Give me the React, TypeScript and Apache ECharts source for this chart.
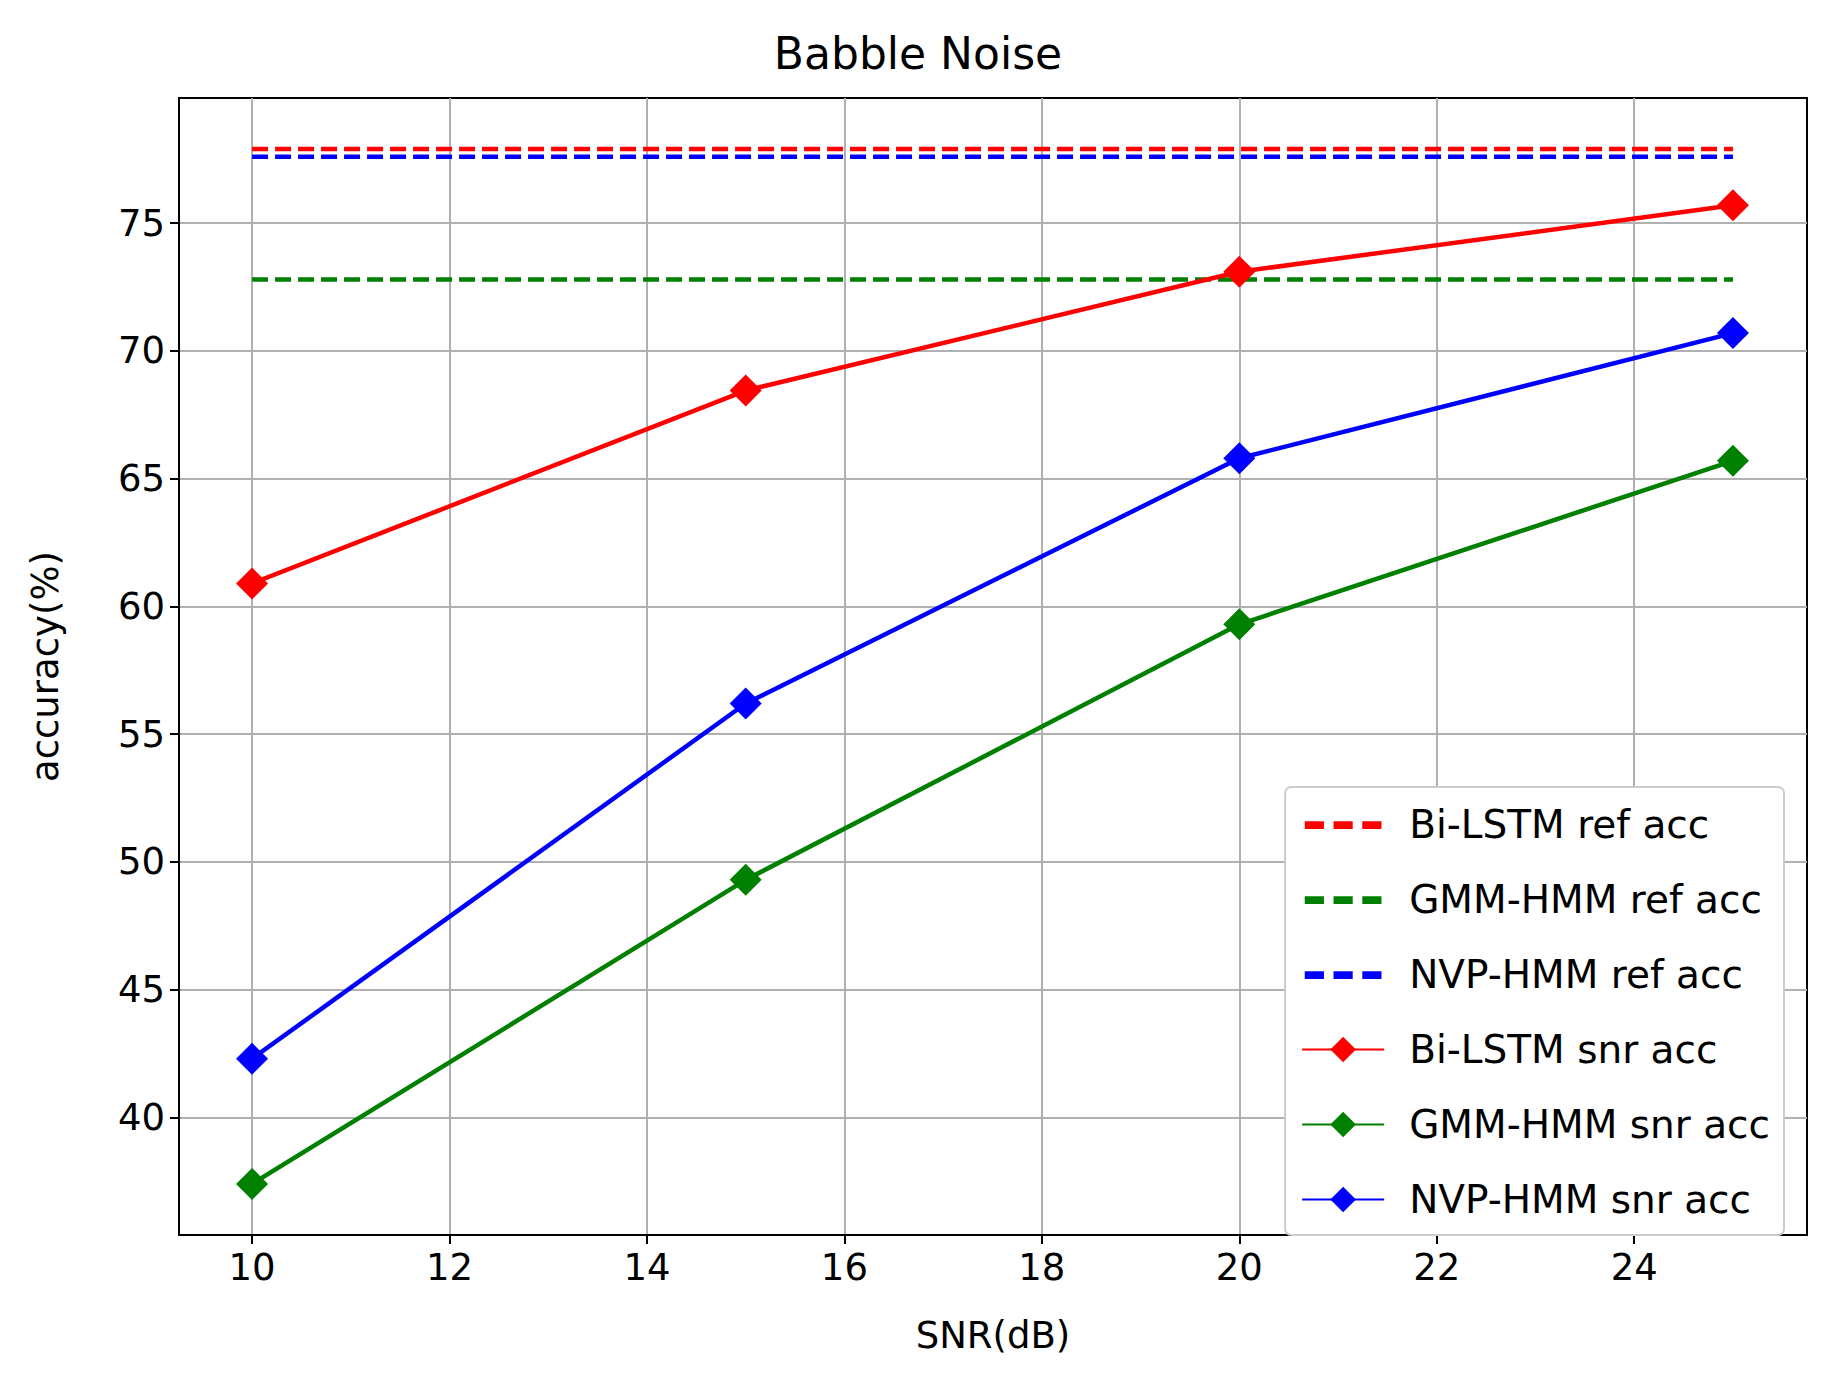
import * as echarts from 'echarts';
import { useEffect, useRef } from 'react';

const snr = [10, 15, 20, 25];
const biLstmRef = 77.9;
const gmmRef = 72.8;
const nvpRef = 77.6;
const biLstmSnr = [60.9, 68.45, 73.1, 75.7];
const gmmSnr = [37.4, 49.3, 59.3, 65.7];
const nvpSnr = [42.3, 56.2, 65.8, 70.7];
const xTicks = [10, 12, 14, 16, 18, 20, 22, 24];
const yTicks = [40, 45, 50, 55, 60, 65, 70, 75];

const font = 'DejaVu Sans';
// dashed legend icon; corner specks keep the bounding box so the dashes stay thin
const dashIcon =
  'path://M0,0h0.01v0.01h-0.01zM24,10h0.01v0.01h-0.01zM0,4h6v2.4h-6zM9,4h6v2.4h-6zM18,4h6v2.4h-6z';

function refSeries(name: string, v: number, color: string) {
  return {
    name,
    type: 'line',
    data: [[snr[0], v], [snr[snr.length - 1], v]],
    symbol: 'none',
    lineStyle: { color, width: 4.5, type: [16, 7] },
    itemStyle: { color },
  };
}

function snrSeries(name: string, vals: number[], color: string) {
  return {
    name,
    type: 'line',
    data: snr.map((x, i) => [x, vals[i]]),
    symbol: 'diamond',
    symbolSize: 32,
    lineStyle: { color, width: 4.5 },
    itemStyle: { color },
  };
}

export default function App() {
  const ref = useRef<HTMLDivElement>(null);

  useEffect(() => {
    if (!ref.current) return;
    const chart = echarts.init(ref.current, null, { renderer: 'svg' });
    const axisCommon = {
      type: 'value',
      axisLine: { show: true, onZero: false, lineStyle: { color: '#000', width: 2 } },
      axisTick: { show: true, length: 9, lineStyle: { color: '#000', width: 2 } },
      axisLabel: { color: '#000', fontSize: 37, fontFamily: font, margin: 14 },
      splitLine: { show: true, lineStyle: { color: '#b0b0b0', width: 2 } },
      nameTextStyle: { color: '#000', fontSize: 37, fontFamily: font },
    };
    chart.setOption({
      animation: false,
      backgroundColor: '#fff',
      title: {
        text: 'Babble Noise',
        left: 'center',
        top: 26,
        textStyle: { fontSize: 44, fontWeight: 'normal', fontFamily: font, color: '#000' },
      },
      grid: { left: 179, right: 29, top: 98, bottom: 160, show: true, borderColor: '#000', borderWidth: 2 },
      xAxis: {
        ...axisCommon,
        min: 9.26,
        max: 25.75,
        name: 'SNR(dB)',
        nameLocation: 'middle',
        nameGap: 82,
        axisTick: { ...axisCommon.axisTick, customValues: xTicks },
        axisLabel: { ...axisCommon.axisLabel, customValues: xTicks },
      },
      yAxis: {
        ...axisCommon,
        min: 35.4,
        max: 79.9,
        name: 'accuracy(%)',
        nameLocation: 'middle',
        nameGap: 115,
        axisTick: { ...axisCommon.axisTick, customValues: yTicks },
        axisLabel: { ...axisCommon.axisLabel, customValues: yTicks },
      },
      legend: {
        orient: 'vertical',
        right: 52,
        top: 787,
        itemWidth: 82,
        itemHeight: 32,
        itemGap: 36,
        padding: [18, 14, 16, 16],
        backgroundColor: '#fff',
        borderColor: '#ccc',
        borderWidth: 2,
        borderRadius: 6,
        textStyle: { fontSize: 39, fontFamily: font, color: '#000', padding: [0, 0, 0, 20] },
        data: [
          { name: 'Bi-LSTM ref acc', icon: dashIcon },
          { name: 'GMM-HMM ref acc', icon: dashIcon },
          { name: 'NVP-HMM ref acc', icon: dashIcon },
          'Bi-LSTM snr acc',
          'GMM-HMM snr acc',
          'NVP-HMM snr acc',
        ],
      },
      series: [
        refSeries('Bi-LSTM ref acc', biLstmRef, '#ff0000'),
        refSeries('GMM-HMM ref acc', gmmRef, '#008000'),
        refSeries('NVP-HMM ref acc', nvpRef, '#0000ff'),
        snrSeries('Bi-LSTM snr acc', biLstmSnr, '#ff0000'),
        snrSeries('GMM-HMM snr acc', gmmSnr, '#008000'),
        snrSeries('NVP-HMM snr acc', nvpSnr, '#0000ff'),
      ],
    });
    return () => chart.dispose();
  }, []);

  return <div ref={ref} style={{ position: 'fixed', left: 0, top: 0, width: 1836, height: 1395 }} />;
}
